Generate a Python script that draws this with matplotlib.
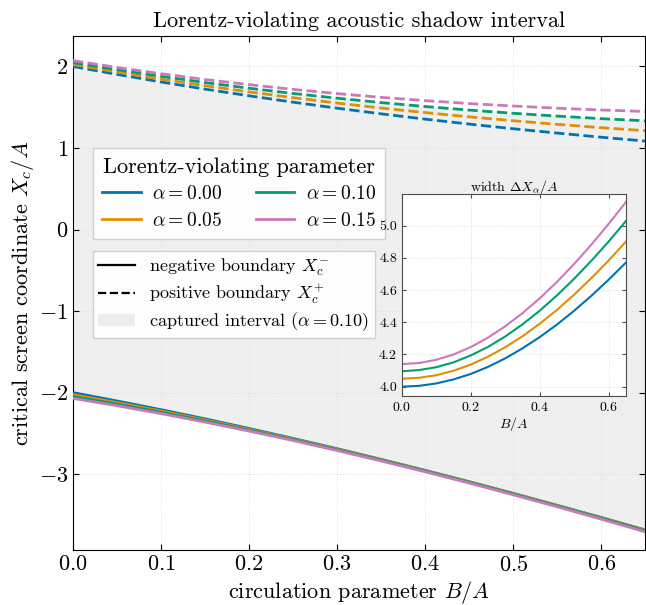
import matplotlib
matplotlib.use("Agg")
import matplotlib.pyplot as plt
from matplotlib.lines import Line2D
from matplotlib.patches import Patch

plt.rcParams['font.family'] = 'serif'
plt.rcParams['font.serif'] = ['cmr10']
plt.rcParams['mathtext.fontset'] = 'cm'
plt.rcParams['axes.formatter.use_mathtext'] = True
plt.rcParams['axes.unicode_minus'] = True

# circulation parameter B/A
B = [0.00, 0.05, 0.10, 0.15, 0.20, 0.25, 0.30, 0.35, 0.40, 0.45, 0.50, 0.55, 0.60, 0.65]

alphas = [0.00, 0.05, 0.10, 0.15]
colors = ['#0173b2', '#de8f05', '#029e73', '#cc78bc']

# positive boundary X_c^+ / A
xp_000 = [2.000, 1.903, 1.810, 1.722, 1.640, 1.562, 1.488, 1.419, 1.354, 1.293, 1.236, 1.183, 1.132, 1.085]
xp_005 = [2.025, 1.932, 1.845, 1.764, 1.688, 1.617, 1.551, 1.490, 1.434, 1.382, 1.334, 1.290, 1.249, 1.212]
xp_010 = [2.048, 1.960, 1.879, 1.803, 1.733, 1.669, 1.611, 1.557, 1.509, 1.465, 1.426, 1.391, 1.360, 1.333]
xp_015 = [2.071, 1.988, 1.911, 1.840, 1.777, 1.719, 1.667, 1.621, 1.581, 1.545, 1.515, 1.488, 1.466, 1.448]

# negative boundary X_c^- / A
xm_000 = [-2.000, -2.103, -2.210, -2.322, -2.440, -2.562, -2.688, -2.819, -2.954, -3.093, -3.236, -3.383, -3.532, -3.685]
xm_005 = [-2.025, -2.123, -2.226, -2.335, -2.450, -2.569, -2.694, -2.823, -2.957, -3.096, -3.238, -3.385, -3.535, -3.688]
xm_010 = [-2.048, -2.142, -2.242, -2.348, -2.461, -2.578, -2.702, -2.830, -2.964, -3.102, -3.244, -3.391, -3.542, -3.696]
xm_015 = [-2.071, -2.161, -2.258, -2.362, -2.472, -2.588, -2.711, -2.839, -2.972, -3.110, -3.254, -3.401, -3.553, -3.708]

# interval width Delta X / A
w_000 = [4.000, 4.005, 4.020, 4.045, 4.079, 4.123, 4.176, 4.238, 4.308, 4.386, 4.472, 4.565, 4.665, 4.771]
w_005 = [4.049, 4.055, 4.071, 4.099, 4.137, 4.186, 4.245, 4.313, 4.391, 4.477, 4.572, 4.675, 4.784, 4.901]
w_010 = [4.096, 4.103, 4.121, 4.151, 4.194, 4.247, 4.312, 4.387, 4.472, 4.567, 4.671, 4.783, 4.902, 5.029]
w_015 = [4.140, 4.147, 4.167, 4.200, 4.246, 4.305, 4.375, 4.457, 4.549, 4.651, 4.763, 4.883, 5.012, 5.147]

xp = [xp_000, xp_005, xp_010, xp_015]
xm = [xm_000, xm_005, xm_010, xm_015]
w = [w_000, w_005, w_010, w_015]

fig = plt.figure(figsize=(6.46, 6.05), dpi=100)
ax = fig.add_axes([0.113, 0.091, 0.886, 0.849])

ax.fill_between(B, xm_010, xp_010, color='0.5', alpha=0.12, lw=0, zorder=1)
for i in range(len(alphas)):
	ax.plot(B, xm[i], '-', color=colors[i], lw=2, zorder=3)
	ax.plot(B, xp[i], '--', color=colors[i], lw=2, zorder=3)

ax.set_xlim(0, 0.65)
ax.set_ylim(-3.93, 2.37)
ax.set_xticks([0.0, 0.1, 0.2, 0.3, 0.4, 0.5, 0.6])
ax.set_yticks([-3, -2, -1, 0, 1, 2])
ax.grid(True, ls=':', lw=0.6, color='0.85')
ax.tick_params(direction='in', top=True, right=True, labelsize=16, length=4)
ax.set_xlabel(r'circulation parameter $B/A$', fontsize=16, labelpad=3)
ax.set_ylabel(r'critical screen coordinate $X_c/A$', fontsize=16, labelpad=2)
ax.set_title('Lorentz-violating acoustic shadow interval', fontsize=16, pad=7)

h1 = [Line2D([], [], color=colors[i], lw=2, label=r'$\alpha = %.2f$' % alphas[i]) for i in range(len(alphas))]
leg1 = ax.legend(handles=h1, ncol=2, title='Lorentz-violating parameter', fontsize=14,
	title_fontsize=16, loc='upper left', bbox_to_anchor=(0.035, 0.782), borderaxespad=0,
	fancybox=False, edgecolor='0.8', framealpha=0.9, columnspacing=1.7,
	labelspacing=0.45, borderpad=0.45, handletextpad=0.6)
ax.add_artist(leg1)

h2 = [Line2D([], [], color='k', lw=1.6, ls='-', label=r'negative boundary $X_c^{-}$'),
	Line2D([], [], color='k', lw=1.6, ls='--', label=r'positive boundary $X_c^{+}$'),
	Patch(facecolor='0.5', alpha=0.12, label=r'captured interval ($\alpha = 0.10$)')]
ax.legend(handles=h2, fontsize=13, loc='upper left', bbox_to_anchor=(0.035, 0.582), borderaxespad=0,
	fancybox=False, edgecolor='0.8', framealpha=0.9, labelspacing=0.25, borderpad=0.3)

# inset: interval width
axi = fig.add_axes([0.622, 0.346, 0.347, 0.3334])
for i in range(len(alphas)):
	axi.plot(B, w[i], '-', color=colors[i], lw=1.5)
axi.set_xlim(0, 0.65)
axi.set_ylim(3.944, 5.197)
axi.set_xticks([0.0, 0.2, 0.4, 0.6])
axi.set_yticks([4.0, 4.2, 4.4, 4.6, 4.8, 5.0])
axi.yaxis.set_major_formatter(matplotlib.ticker.FormatStrFormatter('%.1f'))
axi.grid(True, ls=':', lw=0.6, color='0.85')
axi.tick_params(direction='in', top=True, right=True, labelsize=10, length=3, color='0.3')
for s in axi.spines.values():
	s.set_color('0.3')
axi.set_xlabel(r'$B/A$', fontsize=10, labelpad=1)
axi.set_title(r'width $\Delta X_\alpha/A$', fontsize=10, pad=2)

fig.savefig('out.png', dpi=100)
